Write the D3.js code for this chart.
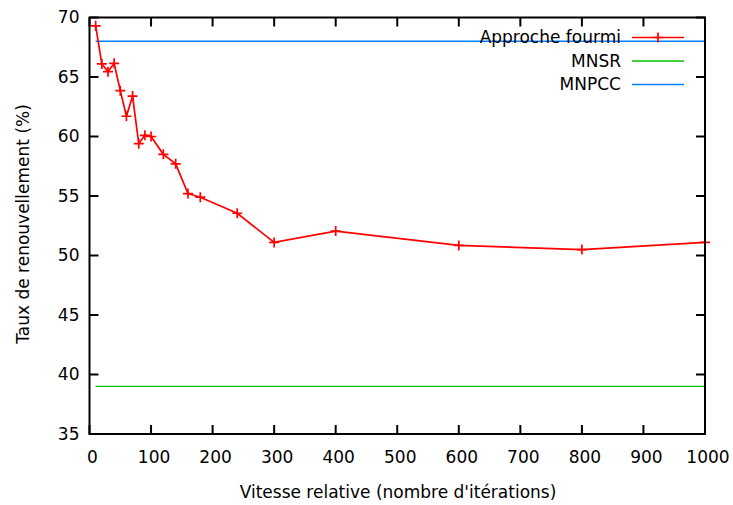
<!DOCTYPE html>
<html>
<head>
<meta charset="utf-8">
<script src="https://cdn.jsdelivr.net/npm/d3@7"></script>
<style>
  body { margin: 0; background: #fff; }
  svg text { font-family: "DejaVu Sans", sans-serif; fill: #000; }
</style>
</head>
<body>
<div id="chart"></div>
<script>
// iterations vs renewal rate
var iterations = [10, 20, 30, 40, 50, 60, 70, 80, 90, 100, 120, 140, 160, 180, 240, 300, 400, 600, 800, 1000];
var fourmi = [69.3, 66.1, 65.45, 66.15, 63.85, 61.7, 63.4, 59.4, 60.1, 60.0, 58.5, 57.7, 55.2, 54.9, 53.55, 51.1, 52.05, 50.85, 50.5, 51.1];
var mnsr = 39;
var mnpcc = 68;
var xTicks = [0, 100, 200, 300, 400, 500, 600, 700, 800, 900, 1000];
var yTicks = [35, 40, 45, 50, 55, 60, 65, 70];

var width = 733, height = 505;
var m = {left: 89.5, right: 28, top: 17.5, bottom: 71};
var iw = width - m.left - m.right, ih = height - m.top - m.bottom;

var svg = d3.select("#chart").append("svg")
    .attr("width", width)
    .attr("height", height);

var x = d3.scaleLinear().domain([0, 1000]).range([0, iw]);
var y = d3.scaleLinear().domain([35, 70]).range([ih, 0]);

var g = svg.append("g").attr("transform", "translate(" + m.left + "," + m.top + ")");

// horizontal reference lines
g.append("line")
    .attr("x1", x(10)).attr("x2", x(1000))
    .attr("y1", y(mnsr)).attr("y2", y(mnsr))
    .attr("stroke", "#00c000").attr("stroke-width", 1.4);
g.append("line")
    .attr("x1", x(10)).attr("x2", x(1000))
    .attr("y1", y(mnpcc)).attr("y2", y(mnpcc))
    .attr("stroke", "#0080ff").attr("stroke-width", 1.4);

var pts = iterations.map((d, i) => [d, fourmi[i]]);

g.append("path")
    .datum(pts)
    .attr("fill", "none")
    .attr("stroke", "#ff0000")
    .attr("stroke-width", 1.7)
    .attr("d", d3.line().x(d => x(d[0])).y(d => y(d[1])));

var cross = s => "M" + (-s) + ",0H" + s + "M0," + (-s) + "V" + s;

g.selectAll(".pt")
    .data(pts)
    .enter().append("path")
    .attr("class", "pt")
    .attr("transform", d => "translate(" + x(d[0]) + "," + y(d[1]) + ")")
    .attr("d", cross(5))
    .attr("stroke", "#ff0000")
    .attr("stroke-width", 1.7);

// frame with inward ticks on every side
var tl = 9;
var ax = g.append("g").attr("stroke", "#000").attr("stroke-width", 2);
xTicks.forEach(t => {
  ax.append("line").attr("x1", x(t)).attr("x2", x(t)).attr("y1", ih).attr("y2", ih - tl);
  ax.append("line").attr("x1", x(t)).attr("x2", x(t)).attr("y1", 0).attr("y2", tl);
});
yTicks.forEach(t => {
  ax.append("line").attr("x1", 0).attr("x2", tl).attr("y1", y(t)).attr("y2", y(t));
  ax.append("line").attr("x1", iw).attr("x2", iw - tl).attr("y1", y(t)).attr("y2", y(t));
});
ax.append("rect")
    .attr("width", iw).attr("height", ih)
    .attr("fill", "none");

// tick labels
g.selectAll(".xl")
    .data(xTicks)
    .enter().append("text")
    .attr("class", "xl")
    .attr("x", d => x(d) + 3)
    .attr("y", ih + 29)
    .attr("text-anchor", "middle")
    .attr("font-size", 17)
    .text(d => d);

g.selectAll(".yl")
    .data(yTicks)
    .enter().append("text")
    .attr("class", "yl")
    .attr("x", -10)
    .attr("y", d => y(d))
    .attr("dy", "0.35em")
    .attr("text-anchor", "end")
    .attr("font-size", 17)
    .text(d => d);

// axis titles
svg.append("text")
    .attr("x", 398).attr("y", 498)
    .attr("text-anchor", "middle")
    .attr("font-size", 17)
    .text("Vitesse relative (nombre d'itérations)");

svg.append("text")
    .attr("transform", "translate(29,224) rotate(-90)")
    .attr("text-anchor", "middle")
    .attr("font-size", 17)
    .text("Taux de renouvellement (%)");

// key
var legend = [
  {name: "Approche fourmi", color: "#ff0000", mark: true},
  {name: "MNSR", color: "#00c000", mark: false},
  {name: "MNPCC", color: "#0080ff", mark: false}
];
var key = svg.append("g");
legend.forEach((d, i) => {
  var ly = 37.5 + i * 23.5;
  key.append("text")
      .attr("x", 621).attr("y", ly)
      .attr("dy", "0.35em")
      .attr("text-anchor", "end")
      .attr("font-size", 17)
      .text(d.name);
  key.append("line")
      .attr("x1", 632).attr("x2", 684)
      .attr("y1", ly).attr("y2", ly)
      .attr("stroke", d.color).attr("stroke-width", 1.4);
  if (d.mark) {
    key.append("path")
        .attr("transform", "translate(658," + ly + ")")
        .attr("d", cross(5))
        .attr("stroke", d.color)
        .attr("stroke-width", 1.7);
  }
});
</script>
</body>
</html>
